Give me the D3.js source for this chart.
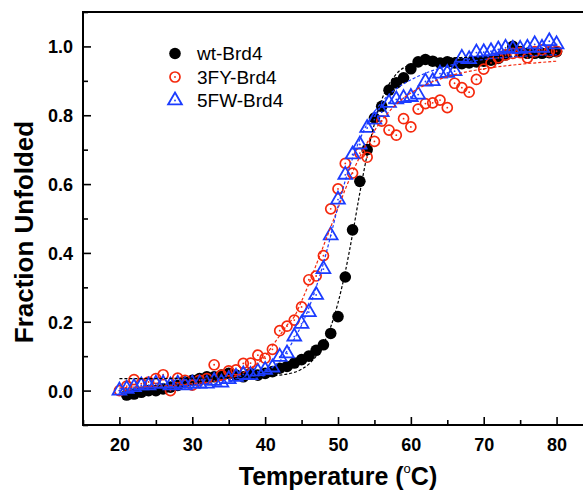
<!DOCTYPE html>
<html>
<head>
<meta charset="utf-8">
<script src="https://cdn.jsdelivr.net/npm/d3@7/dist/d3.min.js"></script>
<style>
  html, body { margin: 0; padding: 0; background: #fff; overflow: hidden; }
  #graphic { width: 583px; height: 491px; }
  text { font-family: Arial, "Liberation Sans", sans-serif; }
</style>
</head>
<body>
<div id="graphic"></div>
<script>
// Global vars
var DEFAULT_WIDTH = 583;

// Temperatures (°C) of the measured points
var temperatures = [20, 21, 22, 23, 24, 25, 26, 27, 28, 29, 30, 31, 32, 33, 34, 35, 36, 37, 38, 39,
  40, 41, 42, 43, 44, 45, 46, 47, 48, 49, 50, 51, 52, 53, 54, 55, 56, 57, 58, 59,
  60, 61, 62, 63, 64, 65, 66, 67, 68, 69, 70, 71, 72, 73, 74, 75, 76, 77, 78, 79, 80];

// Fraction unfolded, one value per temperature (null = no point)
var wtValues = [null, -0.013, -0.01, -0.005, 0.0, 0.0, 0.005, 0.01, 0.015, 0.025, 0.03, 0.035, 0.04, 0.04, 0.045, 0.05, 0.045, 0.04, 0.05, 0.045,
  0.05, 0.055, 0.065, 0.07, 0.08, 0.09, 0.10, 0.117, 0.133, 0.166, 0.215, 0.33, 0.467, 0.608, 0.70, 0.792, 0.826, 0.873, 0.894, 0.909,
  0.935, 0.955, 0.962, 0.957, 0.952, 0.955, 0.952, 0.95, 0.952, 0.955, 0.957, 0.96, 0.965, 0.975, 1.0, 0.985, 0.98, 0.98, 0.98, 0.982, 0.985];

var fyValues = [0.0, 0.013, 0.032, 0.02, 0.025, 0.035, 0.046, 0.0, 0.036, 0.03, 0.016, 0.03, 0.035, 0.075, 0.045, 0.057, 0.06, 0.079, 0.08, 0.103,
  0.094, 0.12, 0.174, 0.187, 0.205, 0.243, 0.322, 0.333, 0.392, 0.528, 0.586, 0.66, 0.632, 0.69, 0.678, 0.724, 0.783, 0.757, 0.742, 0.79,
  0.766, 0.818, 0.834, 0.836, 0.844, 0.822, 0.893, 0.88, 0.867, 0.904, 0.934, 0.952, 0.967, 0.975, 0.98, 0.982, 0.967, 0.985, 0.99, 0.985, 0.986];

var fwValues = [0.0, 0.005, 0.01, 0.015, 0.015, 0.02, 0.02, 0.015, 0.02, 0.015, 0.02, 0.02, 0.02, 0.028, 0.023, 0.033, 0.04, 0.047, 0.045, 0.055,
  0.06, 0.067, 0.098, 0.108, 0.157, 0.194, 0.228, 0.278, 0.353, 0.451, 0.555, 0.627, 0.686, 0.715, 0.763, 0.787, 0.809, 0.836, 0.846, 0.85,
  0.853, 0.86, 0.898, 0.899, 0.921, 0.923, 0.928, 0.967, 0.963, 0.982, 0.983, 0.986, 0.991, 0.996, 0.993, 0.993, 0.996, 1.006, 0.996, 1.015, 1.006];

// Fitted curves
var fitTemps = [20, 25, 30, 35, 38, 40, 41, 42, 43, 44, 45, 46, 47, 48, 49, 50, 51, 52, 53, 54, 55, 56, 57, 58, 60, 62, 65, 70, 75, 80];
var wtFit = [0.035, 0.035, 0.036, 0.037, 0.039, 0.041, 0.043, 0.045, 0.048, 0.053, 0.062, 0.077, 0.10, 0.135, 0.185, 0.255, 0.345, 0.455, 0.575, 0.685, 0.775, 0.845, 0.89, 0.92, 0.948, 0.96, 0.966, 0.969, 0.972, 0.975];
var fyFit = [0.008, 0.012, 0.02, 0.035, 0.065, 0.10, 0.13, 0.16, 0.19, 0.215, 0.26, 0.31, 0.365, 0.42, 0.475, 0.53, 0.585, 0.635, 0.68, 0.72, 0.755, 0.785, 0.81, 0.832, 0.865, 0.888, 0.912, 0.935, 0.948, 0.957];
var fwFit = [0.005, 0.01, 0.015, 0.025, 0.04, 0.055, 0.068, 0.085, 0.115, 0.15, 0.19, 0.24, 0.30, 0.37, 0.45, 0.535, 0.61, 0.675, 0.73, 0.775, 0.81, 0.838, 0.86, 0.877, 0.903, 0.922, 0.943, 0.962, 0.971, 0.976];

// Axis ticks
var xTicks = [20, 30, 40, 50, 60, 70, 80];
var xMinorTicks = [15, 25, 35, 45, 55, 65, 75, 85];
var yTicks = [0.0, 0.2, 0.4, 0.6, 0.8, 1.0];
var yMinorTicks = [-0.1, 0.1, 0.3, 0.5, 0.7, 0.9, 1.1];

var seriesNames = ['wt-Brd4', '3FY-Brd4', '5FW-Brd4'];

var RED = '#f5280c';
var BLUE = '#1b3cff';

/*
 * Initialize the graphic.
 */
var onWindowLoaded = function () {
  render(DEFAULT_WIDTH);
};

/*
 * Render the graphic.
 */
var render = function (containerWidth) {
  if (!containerWidth) {
    containerWidth = DEFAULT_WIDTH;
  }

  renderGraphic({
    container: '#graphic',
    width: containerWidth,
    height: 491
  });
};

/*
 * Render a graphic.
 */
var renderGraphic = function (config) {
  // plot frame runs past the right edge of the window, as in the original
  var margins = {
    top: 12,
    right: -10,
    bottom: 66,
    left: 83
  };

  var chartWidth = config['width'] - margins['left'] - margins['right'];
  var chartHeight = config['height'] - margins['top'] - margins['bottom'];

  var containerElement = d3.select(config['container']);
  containerElement.html('');

  var svg = containerElement
    .append('svg')
    .attr('width', config['width'])
    .attr('height', config['height']);

  var chartElement = svg
    .append('g')
    .attr('transform', 'translate(' + margins['left'] + ',' + margins['top'] + ')');

  var xScale = d3.scaleLinear()
    .domain([15, 85])
    .range([0, chartWidth]);

  var yScale = d3.scaleLinear()
    .domain([-0.1, 1.1])
    .range([chartHeight, 0]);

  // Axes (ticks point inward)
  var xAxis = d3.axisBottom(xScale)
    .tickValues(xTicks)
    .tickSizeInner(-8)
    .tickSizeOuter(0)
    .tickPadding(13)
    .tickFormat(d3.format('d'));

  var xMinor = d3.axisBottom(xScale)
    .tickValues(xMinorTicks)
    .tickSizeInner(-5)
    .tickSizeOuter(0)
    .tickFormat('');

  var yAxis = d3.axisLeft(yScale)
    .tickValues(yTicks)
    .tickSizeInner(-8)
    .tickSizeOuter(0)
    .tickPadding(10)
    .tickFormat(d3.format('.1f'));

  var yMinor = d3.axisLeft(yScale)
    .tickValues(yMinorTicks)
    .tickSizeInner(-5)
    .tickSizeOuter(0)
    .tickFormat('');

  [xAxis, xMinor].forEach(function (ax) {
    chartElement.append('g')
      .attr('class', 'x axis')
      .attr('transform', 'translate(0,' + chartHeight + ')')
      .call(ax);
  });
  [yAxis, yMinor].forEach(function (ax) {
    chartElement.append('g')
      .attr('class', 'y axis')
      .call(ax);
  });

  chartElement.selectAll('.axis path').remove();
  chartElement.selectAll('.axis line')
    .attr('stroke', '#000')
    .attr('stroke-width', 1.6);
  chartElement.selectAll('.axis text')
    .attr('fill', '#000')
    .style('font-size', '18px')
    .style('font-weight', 'bold');
  chartElement.selectAll('.y.axis text')
    .attr('dy', '0.36em');

  // Frame
  chartElement.append('rect')
    .attr('x', 0)
    .attr('y', 0)
    .attr('width', chartWidth)
    .attr('height', chartHeight)
    .attr('fill', 'none')
    .attr('stroke', '#000')
    .attr('stroke-width', 2);

  // Axis titles
  var xTitle = svg.append('text')
    .attr('x', margins['left'] + xScale(50))
    .attr('y', 485)
    .attr('text-anchor', 'middle')
    .style('font-size', '25px')
    .style('font-weight', 'bold');
  xTitle.append('tspan').text('Temperature (');
  xTitle.append('tspan').attr('dy', -12).style('font-size', '13px').style('font-weight', 'normal').text('o');
  xTitle.append('tspan').attr('dy', 12).text('C)');

  svg.append('text')
    .attr('transform', 'translate(33,232) rotate(-90)')
    .attr('text-anchor', 'middle')
    .style('font-size', '26px')
    .style('font-weight', 'bold')
    .text('Fraction Unfolded');

  // Data points
  var plotLayer = chartElement.append('g');

  var pointsFor = function (values) {
    return temperatures
      .map(function (t, i) { return { t: t, v: values[i] }; })
      .filter(function (d) { return d.v !== null; });
  };

  var triangle = d3.symbol().type(d3.symbolTriangle).size(82);

  var drawCircles = function (data) {
    var g = plotLayer.append('g');
    g.selectAll('circle')
      .data(data)
      .enter().append('circle')
      .attr('cx', function (d) { return xScale(d.t); })
      .attr('cy', function (d) { return yScale(d.v); })
      .attr('r', 5.8)
      .attr('fill', '#000');
  };

  var drawRings = function (data) {
    var g = plotLayer.append('g');
    var m = g.selectAll('g')
      .data(data)
      .enter().append('g')
      .attr('transform', function (d) {
        return 'translate(' + xScale(d.t) + ',' + yScale(d.v) + ')';
      });
    m.append('circle').attr('r', 5).attr('fill', 'none').attr('stroke', RED).attr('stroke-width', 1.7);
    m.append('circle').attr('r', 0.9).attr('fill', RED);
  };

  var drawTriangles = function (data) {
    var g = plotLayer.append('g');
    var m = g.selectAll('g')
      .data(data)
      .enter().append('g')
      .attr('transform', function (d) {
        return 'translate(' + xScale(d.t) + ',' + yScale(d.v) + ')';
      });
    m.append('path').attr('d', triangle).attr('fill', 'none').attr('stroke', BLUE).attr('stroke-width', 1.8);
    m.append('circle').attr('r', 0.9).attr('fill', BLUE);
  };

  drawCircles(pointsFor(wtValues));
  drawRings(pointsFor(fyValues));
  drawTriangles(pointsFor(fwValues));

  // Fit curves
  var line = d3.line()
    .x(function (d) { return xScale(d.t); })
    .y(function (d) { return yScale(d.v); })
    .curve(d3.curveMonotoneX);

  var fitData = function (values) {
    return fitTemps.map(function (t, i) { return { t: t, v: values[i] }; });
  };

  [[wtFit, '#000'], [fyFit, RED], [fwFit, BLUE]].forEach(function (f) {
    plotLayer.append('path')
      .datum(fitData(f[0]))
      .attr('d', line)
      .attr('fill', 'none')
      .attr('stroke', f[1])
      .attr('stroke-width', 1.2)
      .attr('stroke-dasharray', '3,2');
  });

  // Legend
  var legend = svg.append('g').attr('transform', 'translate(175,0)');
  var legendY = [53.5, 77, 100.5];

  legend.append('circle').attr('cx', 0).attr('cy', legendY[0]).attr('r', 5.8).attr('fill', '#000');
  legend.append('circle').attr('cx', 0).attr('cy', legendY[1]).attr('r', 5)
    .attr('fill', 'none').attr('stroke', RED).attr('stroke-width', 1.7);
  legend.append('circle').attr('cx', 0).attr('cy', legendY[1]).attr('r', 0.9).attr('fill', RED);
  legend.append('path').attr('d', triangle)
    .attr('transform', 'translate(0,' + legendY[2] + ')')
    .attr('fill', 'none').attr('stroke', BLUE).attr('stroke-width', 1.8);
  legend.append('circle').attr('cx', 0).attr('cy', legendY[2]).attr('r', 0.9).attr('fill', BLUE);

  legend.selectAll('text.label')
    .data(seriesNames)
    .enter().append('text')
    .attr('class', 'label')
    .attr('x', 22)
    .attr('y', function (d, i) { return legendY[i]; })
    .attr('dy', '0.36em')
    .style('font-size', '19px')
    .text(function (d) { return d; });
};

window.onload = onWindowLoaded;
</script>
</body>
</html>
